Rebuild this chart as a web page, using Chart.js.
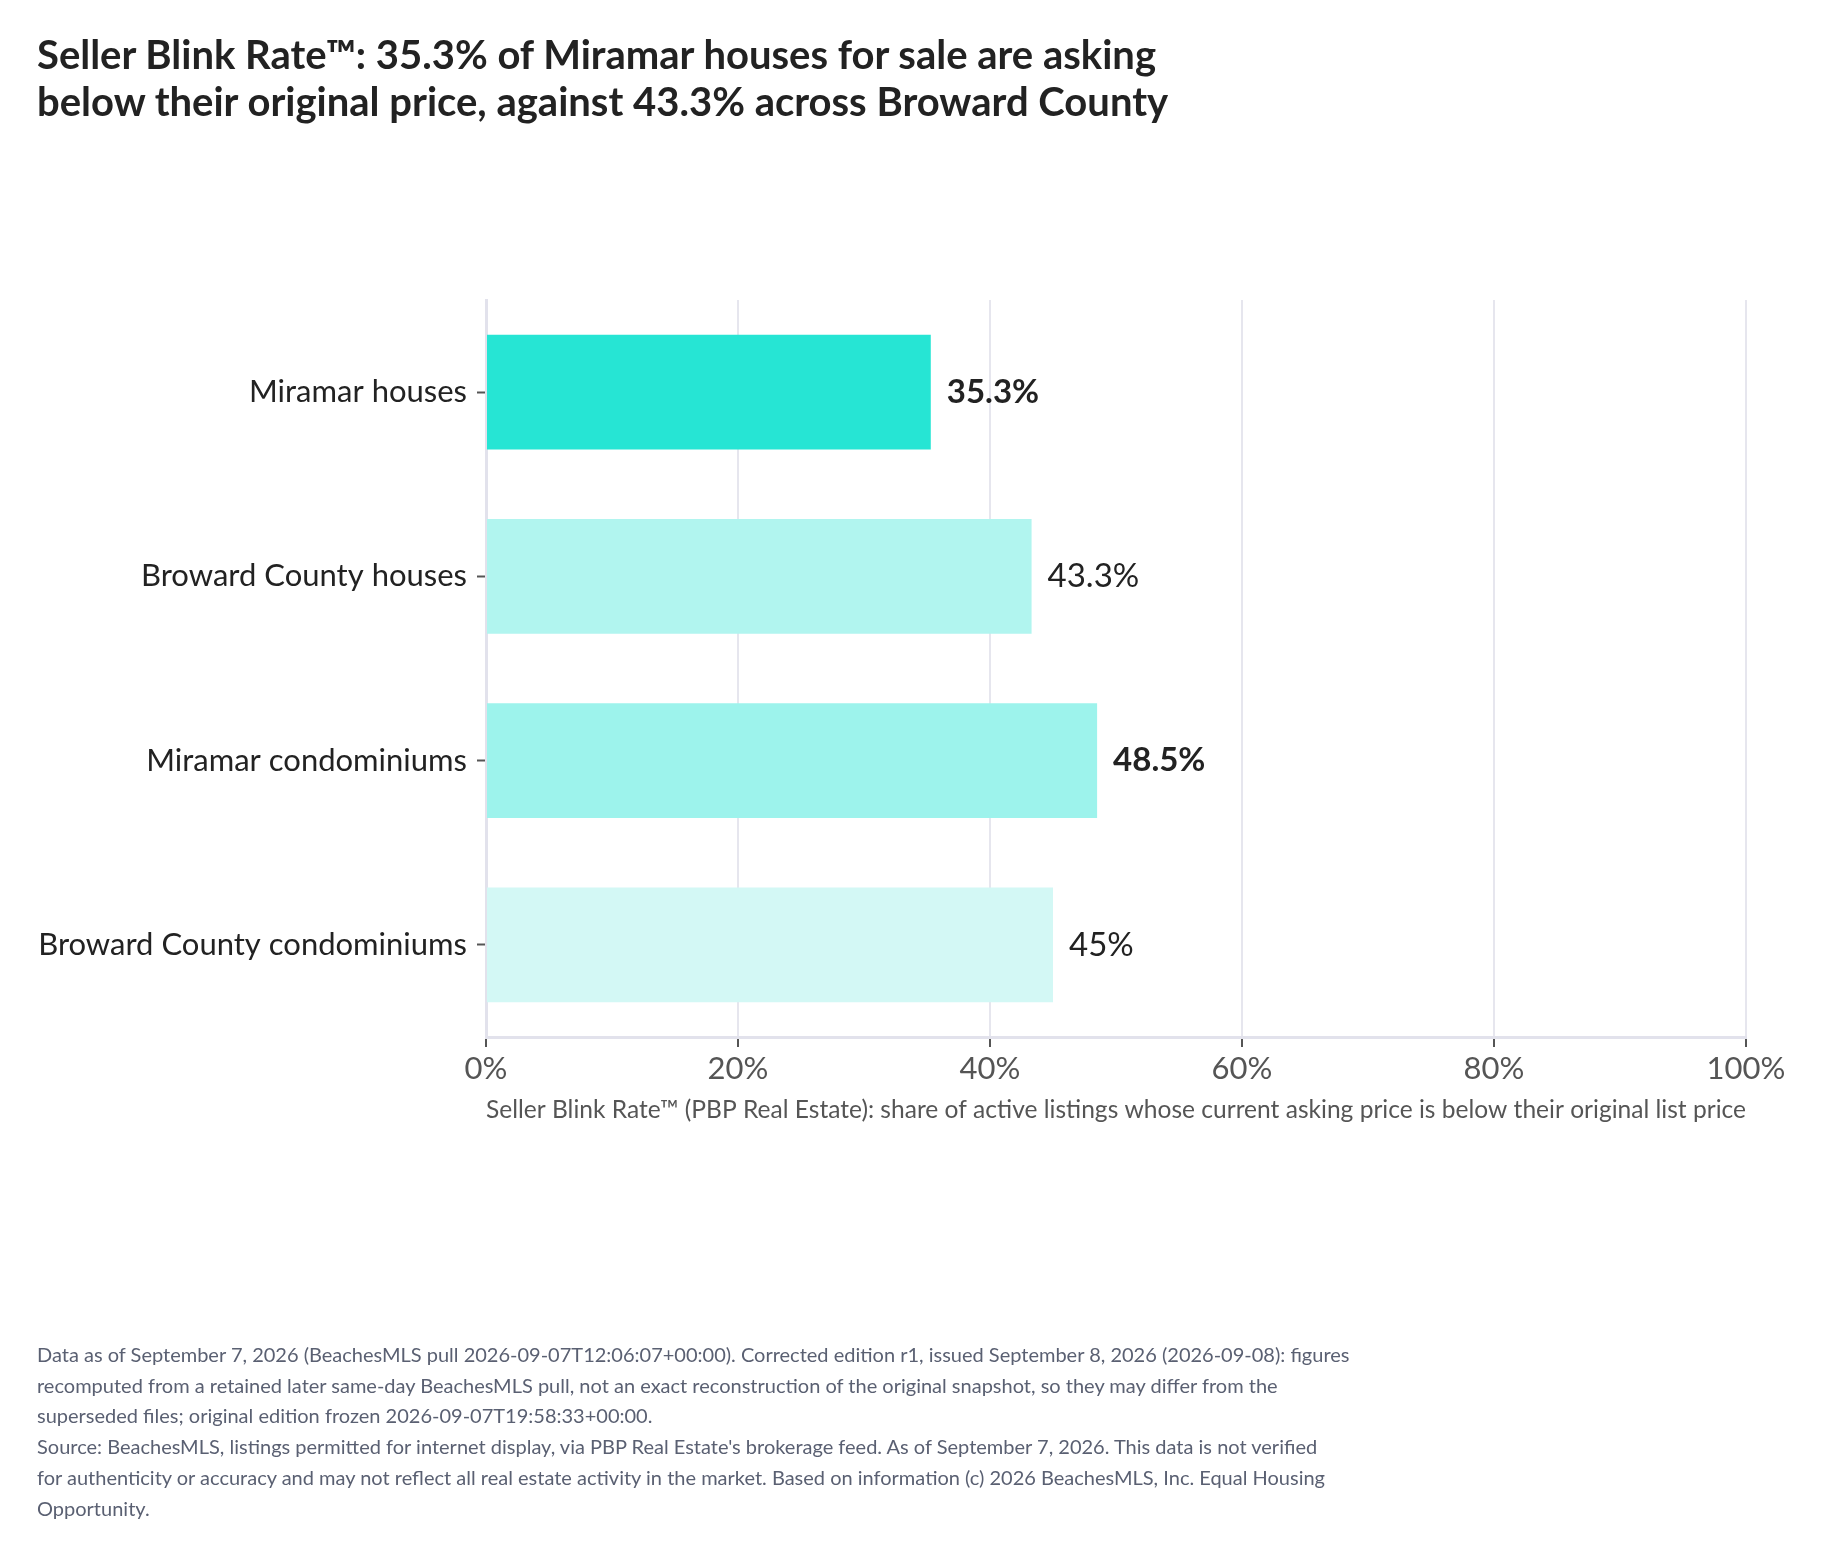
<!DOCTYPE html>
<html>
<head>
<meta charset="utf-8">
<script src="https://cdn.jsdelivr.net/npm/chart.js@4.4.1/dist/chart.umd.min.js"></script>
<style>
    html, body { margin: 0; padding: 0; background: #ffffff; }
    body { width: 1821px; height: 1556px; position: relative; overflow: hidden; font-family: Lato, sans-serif; }
    #title { position: absolute; left: 37px; top: 31px; font-size: 40px; line-height: 47px; font-weight: 700; color: #222222; white-space: nowrap; }
    #chartBox { position: absolute; left: 0; top: 0; width: 1821px; height: 1556px; }
    #footer { position: absolute; left: 37px; top: 1339px; font-size: 20px; line-height: 30.7px; color: #5a6072; white-space: nowrap; }
</style>
</head>
<body>
<div id="chartBox"><canvas id="barChart"></canvas></div>
<div id="title">Seller Blink Rate™: 35.3% of Miramar houses for sale are asking<br>below their original price, against 43.3% across Broward County</div>
<div id="footer">
Data as of September 7, 2026 (BeachesMLS pull 2026-09-07T12:06:07+00:00). Corrected edition r1, issued September 8, 2026 (2026-09-08): figures<br>
recomputed from a retained later same-day BeachesMLS pull, not an exact reconstruction of the original snapshot, so they may differ from the<br>
superseded files; original edition frozen 2026-09-07T19:58:33+00:00.<br>
Source: BeachesMLS, listings permitted for internet display, via PBP Real Estate's brokerage feed. As of September 7, 2026. This data is not verified<br>
for authenticity or accuracy and may not reflect all real estate activity in the market. Based on information (c) 2026 BeachesMLS, Inc. Equal Housing<br>
Opportunity.
</div>
<script>
    const categories = ['Miramar houses', 'Broward County houses', 'Miramar condominiums', 'Broward County condominiums'];
    const blinkRates = [35.3, 43.3, 48.5, 45];
    const barColors = ['#26e5d4', '#b1f5ef', '#9df3ec', '#d3f8f5'];
    const boldLabels = [true, false, true, false];
    const xTicks = [0, 20, 40, 60, 80, 100];
    const axisTitle = 'Seller Blink Rate™ (PBP Real Estate): share of active listings whose current asking price is below their original list price';

    // value labels at the end of each bar
    const valueLabels = {
        id: 'valueLabels',
        afterDatasetsDraw(chart) {
            const ctx = chart.ctx;
            const meta = chart.getDatasetMeta(0);
            ctx.save();
            ctx.fillStyle = '#222222';
            ctx.textAlign = 'left';
            ctx.textBaseline = 'middle';
            meta.data.forEach((bar, i) => {
                ctx.font = (boldLabels[i] ? '700 ' : '400 ') + '33px Lato';
                ctx.fillText(blinkRates[i] + '%', bar.x + 16, bar.y);
            });
            ctx.restore();
        }
    };

    const ctx = document.getElementById('barChart');

    new Chart(ctx, {
        type: 'bar',
        data: {
            labels: categories,
            datasets: [{
                data: blinkRates,
                backgroundColor: barColors,
                borderWidth: 0,
                categoryPercentage: 1,
                barPercentage: 0.622
            }]
        },
        options: {
            indexAxis: 'y',
            responsive: true,
            maintainAspectRatio: false,
            animation: false,
            devicePixelRatio: 1,
            layout: {
                padding: { left: 0, right: 75, top: 300, bottom: 431 }
            },
            plugins: {
                legend: { display: false },
                tooltip: { enabled: false }
            },
            scales: {
                x: {
                    min: 0,
                    max: 100,
                    afterBuildTicks: (scale) => {
                        scale.ticks = xTicks.map(v => ({ value: v }));
                    },
                    afterFit: (scale) => {
                        scale.height = 88;
                    },
                    grid: {
                        color: '#e6e6ee',
                        lineWidth: 2,
                        drawTicks: true,
                        tickLength: 10,
                        tickColor: '#555555',
                        tickWidth: 2
                    },
                    border: { color: '#e2e2ec', width: 3 },
                    ticks: {
                        color: '#555555',
                        font: { family: 'Lato', size: 31 },
                        padding: 3,
                        callback: (v) => v + '%'
                    },
                    title: {
                        display: true,
                        text: axisTitle,
                        color: '#555555',
                        font: { family: 'Lato', size: 25 },
                        padding: { top: 4, bottom: 0 }
                    }
                },
                y: {
                    afterFit: (scale) => {
                        scale.width = 486;
                    },
                    grid: {
                        offset: false,
                        color: 'rgba(0,0,0,0)',
                        drawTicks: true,
                        tickLength: 9,
                        tickColor: '#555555',
                        tickWidth: 2
                    },
                    border: { color: '#e2e2ec', width: 3 },
                    ticks: {
                        color: '#222222',
                        font: { family: 'Lato', size: 31 },
                        padding: 10
                    }
                }
            }
        },
        plugins: [valueLabels]
    });
</script>
</body>
</html>
